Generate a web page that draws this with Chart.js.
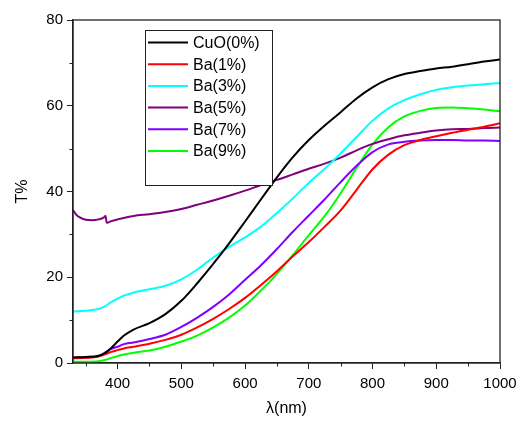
<!DOCTYPE html>
<html>
<head>
<meta charset="utf-8">
<script src="https://cdn.jsdelivr.net/npm/chart.js@4.4.1/dist/chart.umd.min.js"></script>
<style>
  html, body { margin: 0; padding: 0; background: #fff; }
  #wrap { width: 516px; height: 421px; }
</style>
</head>
<body>
<div id="wrap"><canvas id="c"></canvas></div>
<script>
// wavelengths (nm) shared by most series
const wavelengths = [330, 350, 370, 380, 390, 400, 410, 425, 450, 475, 500, 525, 550, 575, 600, 625, 650, 675, 700, 725, 750, 775, 800, 825, 850, 875, 900, 925, 950, 975, 1000];

const cuo0 = [1.3, 1.4, 1.7, 2.3, 3.5, 5.0, 6.4, 7.8, 9.3, 11.4, 14.5, 18.6, 23.1, 27.9, 33.0, 38.2, 43.3, 48.0, 52.0, 55.4, 58.5, 61.7, 64.3, 66.2, 67.4, 68.1, 68.7, 69.1, 69.7, 70.3, 70.8];
const ba1 = [1.1, 1.2, 1.5, 2.0, 2.6, 3.0, 3.4, 3.8, 4.5, 5.4, 6.6, 8.3, 10.3, 12.6, 15.2, 18.2, 21.4, 24.9, 28.2, 31.8, 35.6, 40.4, 45.2, 48.6, 50.8, 52.0, 52.9, 53.7, 54.4, 55.1, 55.9];
const ba3 = [12.0, 12.2, 12.6, 13.2, 14.2, 15.0, 15.7, 16.4, 17.2, 18.0, 19.5, 21.8, 24.6, 27.1, 29.3, 31.8, 35.0, 38.4, 42.0, 45.3, 48.9, 52.7, 56.5, 59.4, 61.3, 62.7, 63.7, 64.3, 64.7, 65.0, 65.3];
const ba7 = [1.3, 1.3, 1.6, 2.4, 3.3, 3.8, 4.4, 4.8, 5.6, 6.6, 8.4, 10.6, 13.1, 16.0, 19.4, 22.8, 26.6, 30.6, 34.4, 38.2, 42.2, 46.0, 49.2, 51.0, 51.6, 51.9, 52.0, 52.0, 51.9, 51.9, 51.8];
const ba9 = [0.3, 0.3, 0.4, 0.7, 1.2, 1.6, 2.0, 2.4, 2.9, 3.8, 5.0, 6.4, 8.3, 10.6, 13.4, 16.9, 20.8, 25.2, 29.8, 34.3, 39.6, 45.5, 51.0, 55.0, 57.5, 58.8, 59.5, 59.6, 59.4, 59.1, 58.7];

// Ba(5%) has its own wavelength grid (step near 382 nm)
const wavelengths5 = [330, 335, 340, 350, 360, 370, 378, 381, 383, 390, 400, 425, 450, 475, 500, 525, 550, 575, 600, 625, 650, 675, 700, 725, 750, 775, 800, 825, 850, 875, 900, 925, 950, 975, 1000];
const ba5 = [35.7, 34.6, 34.0, 33.4, 33.3, 33.5, 33.9, 34.3, 32.7, 33.1, 33.5, 34.3, 34.7, 35.2, 35.9, 36.9, 37.9, 39.0, 40.2, 41.5, 42.7, 44.0, 45.3, 46.5, 47.9, 49.6, 51.1, 52.2, 53.1, 53.7, 54.2, 54.5, 54.6, 54.8, 54.9];

const seriesNames = ['CuO(0%)', 'Ba(1%)', 'Ba(3%)', 'Ba(5%)', 'Ba(7%)', 'Ba(9%)'];
const seriesColors = ['#000000', '#ff0000', '#00ffff', '#800080', '#8000ff', '#00ff00'];

const xTicks = [400, 500, 600, 700, 800, 900, 1000];
const yTicks = [0, 20, 40, 60, 80];

const FONT = "'Liberation Sans', Arial, sans-serif";

function pts(xs, ys) {
    return xs.map((x, i) => ({ x: x, y: ys[i] }));
}

const allSeries = [
    pts(wavelengths, cuo0),
    pts(wavelengths, ba1),
    pts(wavelengths, ba3),
    pts(wavelengths5, ba5),
    pts(wavelengths, ba7),
    pts(wavelengths, ba9)
];

const datasets = allSeries.map((d, i) => ({
    label: seriesNames[i],
    data: d,
    borderColor: seriesColors[i],
    backgroundColor: seriesColors[i],
    borderWidth: 2,
    pointRadius: 0,
    cubicInterpolationMode: 'monotone',
    fill: false
}));

// frame + minor ticks
const framePlugin = {
    id: 'frame',
    afterDraw(chart) {
        const c = chart.ctx, a = chart.chartArea;
        const xs = chart.scales.x, ys = chart.scales.y;
        c.save();
        c.strokeStyle = '#222';
        c.lineWidth = 1.3;
        c.strokeRect(a.left, a.top, a.right - a.left, a.bottom - a.top);
        c.lineWidth = 1;
        c.beginPath();
        for (let v = 350; v < 1000; v += 100) {
            const px = Math.round(xs.getPixelForValue(v)) + 0.5;
            c.moveTo(px, a.bottom);
            c.lineTo(px, a.bottom + 3.5);
        }
        for (let v = 10; v < 80; v += 20) {
            const py = Math.round(ys.getPixelForValue(v)) + 0.5;
            c.moveTo(a.left, py);
            c.lineTo(a.left - 3.5, py);
        }
        c.stroke();
        c.restore();
    }
};

// legend box drawn inside the plot
const legendPlugin = {
    id: 'boxLegend',
    afterDraw(chart) {
        const c = chart.ctx;
        c.save();
        c.fillStyle = '#fff';
        c.fillRect(145, 30, 127, 155);
        c.strokeStyle = '#222';
        c.lineWidth = 1;
        c.strokeRect(145.5, 30.5, 127, 155);
        c.font = '16px ' + FONT;
        c.textBaseline = 'middle';
        chart.data.datasets.forEach((ds, i) => {
            const y = 42.5 + i * 21.7;
            c.strokeStyle = ds.borderColor;
            c.lineWidth = 2;
            c.beginPath();
            c.moveTo(148, y);
            c.lineTo(188, y);
            c.stroke();
            c.fillStyle = '#000';
            c.fillText(ds.label, 193, y + 1);
        });
        c.restore();
    }
};

new Chart(document.getElementById('c'), {
    type: 'line',
    data: { datasets: datasets },
    options: {
        responsive: true,
        maintainAspectRatio: false,
        animation: false,
        layout: { padding: { left: 8, top: 20, right: 16, bottom: 0 } },
        scales: {
            x: {
                type: 'linear',
                min: 330,
                max: 1000,
                afterFit(scale) {
                    scale.height = 58;
                    scale.paddingLeft = 0;
                    scale.paddingRight = 0;
                },
                afterBuildTicks(scale) { scale.ticks = xTicks.map(v => ({ value: v })); },
                ticks: {
                    color: '#000',
                    font: { family: FONT, size: 15 },
                    padding: 6,
                    maxRotation: 0,
                    callback: v => String(v)
                },
                grid: {
                    drawOnChartArea: false,
                    drawTicks: true,
                    tickLength: 6,
                    tickColor: '#222',
                    tickWidth: 1
                },
                border: { display: true, color: '#222', width: 1.3 },
                title: {
                    display: true,
                    text: 'λ(nm)',
                    color: '#000',
                    font: { family: FONT, size: 16 },
                    padding: { top: 0, bottom: 3 }
                }
            },
            y: {
                min: 0,
                max: 80,
                afterFit(scale) { scale.width = 65; },
                afterBuildTicks(scale) { scale.ticks = yTicks.map(v => ({ value: v })); },
                ticks: {
                    color: '#000',
                    font: { family: FONT, size: 15 },
                    padding: 4
                },
                grid: {
                    drawOnChartArea: false,
                    drawTicks: true,
                    tickLength: 6,
                    tickColor: '#222',
                    tickWidth: 1
                },
                border: { display: true, color: '#222', width: 1.3 },
                title: {
                    display: true,
                    text: 'T%',
                    color: '#000',
                    font: { family: FONT, size: 16 },
                    padding: { top: 5, bottom: 0 }
                }
            }
        },
        plugins: {
            legend: { display: false },
            tooltip: { enabled: false }
        }
    },
    plugins: [framePlugin, legendPlugin]
});
</script>
</body>
</html>
